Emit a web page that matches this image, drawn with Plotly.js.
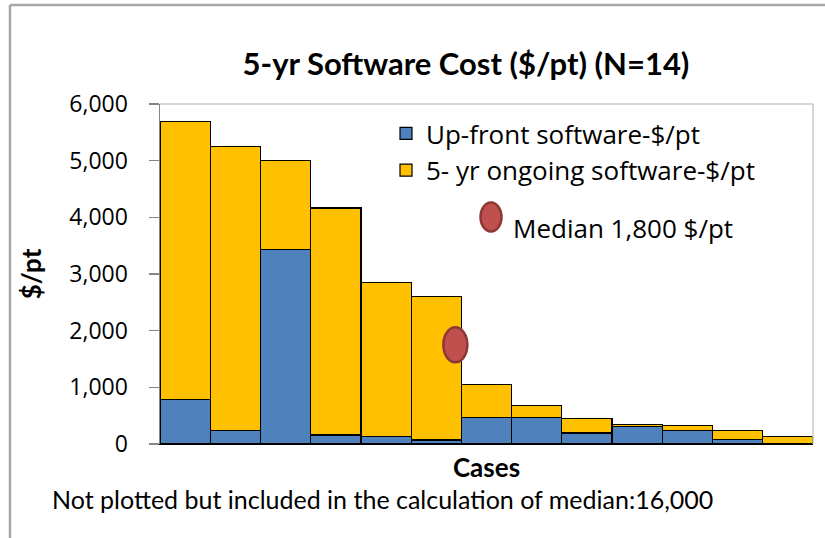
<!DOCTYPE html>
<html>
<head>
<meta charset="utf-8">
<script src="https://cdn.plot.ly/plotly-3.0.1.min.js"></script>
<style>
  html, body { margin: 0; padding: 0; background: #ffffff; }
  #chart { width: 825px; height: 538px; }
</style>
</head>
<body>
<div id="chart"></div>
<script>
// ---- data ----
var cases = ["Case 1","Case 2","Case 3","Case 4","Case 5","Case 6","Case 7",
             "Case 8","Case 9","Case 10","Case 11","Case 12","Case 13"];
var upfront = [790, 240, 3435, 160, 135, 70, 470, 470, 195, 305, 240, 80, 12];
var ongoing = [4900, 5005, 1565, 4005, 2720, 2530, 585, 210, 255, 40, 85, 155, 123];
var seriesNames = ["Up-front software-$/pt", "5- yr ongoing software-$/pt"];
var medianPos = [5.38];      // position along the case axis
var medianVal = [1750];
var medianLabel = "Median 1,800 $/pt";
var yTicks = [0, 1000, 2000, 3000, 4000, 5000, 6000];
var yTickText = ["0", "1,000", "2,000", "3,000", "4,000", "5,000", "6,000"];
var titleText = "5-yr Software Cost ($/pt) (N=14)";
var xTitle = "Cases";
var yTitle = "$/pt";
var note = "Not plotted but included in the calculation of median:16,000";

// ---- layout helpers (pixel -> paper) ----
var W = 825, H = 538;
var L = 160, R = 12, T = 104, B = 94;
var PW = W - L - R, PH = H - T - B;
function px(x) { return (x - L) / PW; }
function py(y) { return (H - B - y) / PH; }

var fontMain = "Lato, 'Open Sans', sans-serif";
var fontAxis = "'Open Sans', 'Noto Sans', sans-serif";

var traces = [
  {
    type: "bar", name: seriesNames[0], x: cases, y: upfront,
    marker: { color: "#4F81BD", line: { color: "#000000", width: 1.2 } }
  },
  {
    type: "bar", name: seriesNames[1], x: cases, y: ongoing,
    marker: { color: "#FFC000", line: { color: "#000000", width: 1.2 } }
  }
];

var shapes = [
  // outer chart frame (top & left)
  { type: "line", xref: "paper", yref: "paper", x0: px(10), x1: px(830), y0: py(5), y1: py(5),
    line: { color: "#A6A6A6", width: 2.5 } },
  { type: "line", xref: "paper", yref: "paper", x0: px(10), x1: px(10), y0: py(5), y1: py(545),
    line: { color: "#A6A6A6", width: 2.5 } },
  // plot area border top & right
  { type: "line", xref: "paper", yref: "paper", x0: 0, x1: 1, y0: 1, y1: 1,
    line: { color: "#C8C8C8", width: 1.5 } },
  { type: "line", xref: "paper", yref: "paper", x0: 1, x1: 1, y0: 0, y1: 1,
    line: { color: "#C8C8C8", width: 1.5 } },
  // median marker (ellipse) anchored at the data value
  { type: "circle", xref: "x", yref: "y", xsizemode: "pixel", ysizemode: "pixel",
    xanchor: medianPos[0], yanchor: medianVal[0], x0: -12, x1: 12, y0: -17.5, y1: 17.5,
    fillcolor: "#C0504D", line: { color: "#8C3836", width: 2.5 } },
  // legend icon for median
  { type: "circle", xref: "paper", yref: "paper", xsizemode: "pixel", ysizemode: "pixel",
    xanchor: px(491), yanchor: py(217), x0: -10.5, x1: 10.5, y0: -14.5, y1: 14.5,
    fillcolor: "#C0504D", line: { color: "#8C3836", width: 2.5 } }
];

var annotations = [
  { xref: "paper", yref: "paper", x: px(511), y: py(228), xanchor: "left", yanchor: "middle",
    text: medianLabel, showarrow: false, font: { family: fontAxis, size: 26, color: "#000" } },
  { xref: "paper", yref: "paper", x: px(50), y: py(499), xanchor: "left", yanchor: "middle",
    text: note, showarrow: false, font: { family: fontMain, size: 25, color: "#000" } }
];

var layout = {
  width: W, height: H,
  margin: { l: L, r: R, t: T, b: B, pad: 0 },
  paper_bgcolor: "#ffffff", plot_bgcolor: "#ffffff",
  barmode: "stack", bargap: 0,
  showlegend: true,
  legend: {
    x: px(386), y: py(110), xanchor: "left", yanchor: "top",
    traceorder: "normal", bgcolor: "rgba(0,0,0,0)", borderwidth: 0,
    font: { family: fontAxis, size: 26, color: "#000" },
    itemclick: false
  },
  title: {
    text: "<b>" + titleText + "</b>",
    xref: "container", yref: "container",
    x: 466 / W, y: 1 - 64 / H, xanchor: "center", yanchor: "middle",
    font: { family: fontMain, size: 31, color: "#000" }
  },
  xaxis: {
    type: "category", range: [-0.5, 12.5], showticklabels: false, ticks: "",
    showline: true, linecolor: "#000000", linewidth: 1, showgrid: false, zeroline: false,
    fixedrange: true,
    title: { text: "<b>" + xTitle + "</b>", standoff: 14,
             font: { family: fontMain, size: 26, color: "#000" } }
  },
  yaxis: {
    range: [0, 6000], tickvals: yTicks, ticktext: yTickText,
    showline: true, linecolor: "#868686", linewidth: 1.5,
    ticks: "outside", ticklen: 10, tickcolor: "#868686", tickwidth: 1.5,
    showgrid: false, zeroline: false, fixedrange: true,
    tickfont: { family: fontAxis, size: 23, color: "#000" },
    ticklabelstandoff: 16,
    title: { text: "<b>" + yTitle + "</b>", standoff: 20,
             font: { family: fontMain, size: 26, color: "#000" } }
  },
  shapes: shapes,
  annotations: annotations
};

Plotly.newPlot("chart", traces, layout, { staticPlot: true, displayModeBar: false });
</script>
</body>
</html>
